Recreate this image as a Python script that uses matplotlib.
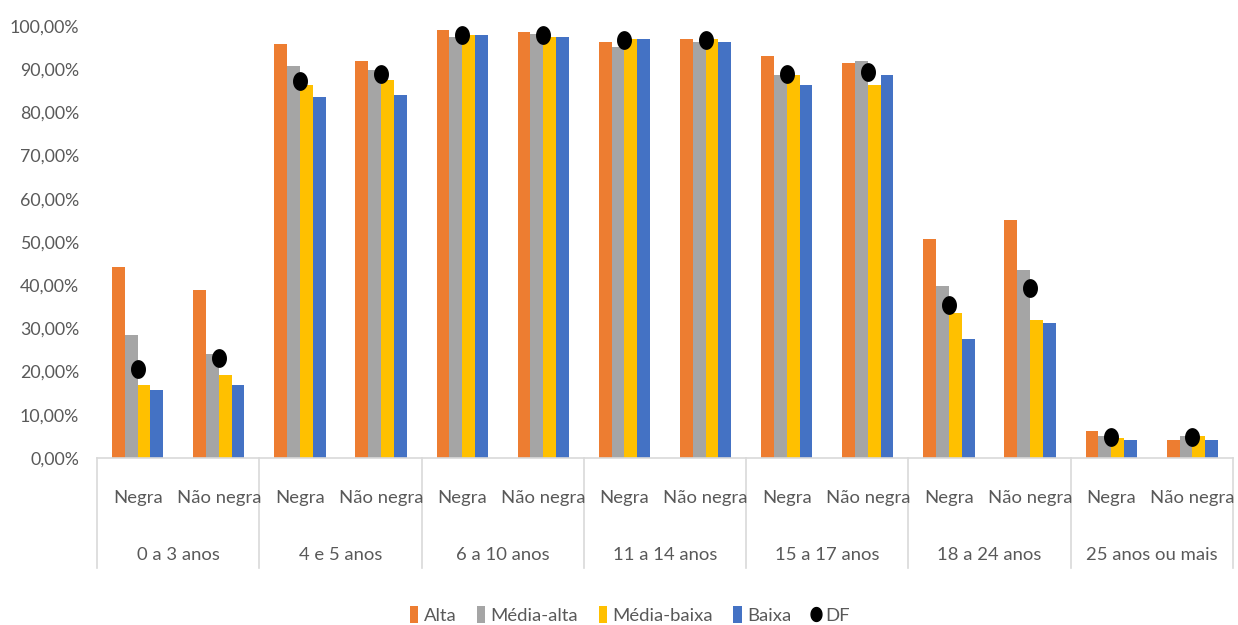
import matplotlib
matplotlib.use("Agg")
import matplotlib.pyplot as plt
import numpy as np
from matplotlib.path import Path
from matplotlib.lines import Line2D
from matplotlib.patches import Patch

# Age groups and race subgroups
age_groups = ["0 a 3 anos", "4 e 5 anos", "6 a 10 anos", "11 a 14 anos",
              "15 a 17 anos", "18 a 24 anos", "25 anos ou mais"]
race_groups = ["Negra", "Não negra"]

# Attendance rates (%) by income bracket, Negra / Não negra for each age group
alta = [44.1, 39.0, 95.8, 91.9, 99.1, 98.6, 96.4, 96.9, 93.1, 91.4, 50.7, 55.2, 6.3, 4.1]
media_alta = [28.5, 24.1, 90.8, 89.7, 97.5, 98.1, 95.2, 96.4, 88.6, 91.9, 39.7, 43.5, 5.2, 5.2]
media_baixa = [16.9, 19.1, 86.3, 87.5, 98.0, 97.5, 96.9, 96.9, 88.6, 86.3, 33.5, 31.9, 4.6, 5.2]
baixa = [15.7, 16.9, 83.6, 84.1, 98.0, 97.5, 96.9, 96.4, 86.3, 88.7, 27.5, 31.3, 4.1, 4.1]
df = [20.5, 23.2, 87.3, 89.0, 97.9, 97.9, 96.8, 96.8, 88.9, 89.4, 35.5, 39.4, 4.9, 4.9]

series_names = ["Alta", "Média-alta", "Média-baixa", "Baixa"]
series_values = [alta, media_alta, media_baixa, baixa]
colors = ["#ED7D31", "#A5A5A5", "#FFC000", "#4472C4"]

plt.rcParams["font.family"] = ["Lato", "DejaVu Sans"]
text_color = "#595959"
line_color = "#D9D9D9"
fs = 13.3

fig = plt.figure(figsize=(12.38, 6.25), dpi=100)
ax = fig.add_axes([0.0784, 0.2672, 0.9175, 0.6912])

n = len(alta)
x = np.arange(n)
bw = 0.158
for k, (vals, c, name) in enumerate(zip(series_values, colors, series_names)):
    ax.bar(x + (k - 1.5) * bw, vals, width=bw, color=c, label=name, zorder=2)

# Slightly tall ellipse marker for the DF reference value
t = np.linspace(0, 2 * np.pi, 60)
ellipse = Path(np.column_stack([0.78 * np.cos(t), np.sin(t)]), closed=True)
ax.plot(x, df, linestyle="none", marker=ellipse, markersize=12.5,
        color="black", zorder=3, label="DF")

ax.set_xlim(-0.5, n - 0.5)
ax.set_ylim(0, 100)
ax.set_yticks(np.arange(0, 101, 10))
ax.set_yticklabels([f"{v},00%" for v in range(0, 101, 10)])
ax.tick_params(axis="y", length=0, pad=13, labelsize=12.8, labelcolor=text_color)
ax.set_xticks([])
for s in ["top", "right", "left"]:
    ax.spines[s].set_visible(False)
ax.spines["bottom"].set_color(line_color)
ax.spines["bottom"].set_linewidth(1.2)

# Two-level category axis
trans = ax.get_xaxis_transform()
for i in range(n):
    ax.text(x[i], -0.093, race_groups[i % 2], transform=trans, ha="center",
            va="center", fontsize=fs, color=text_color)
for g, label in enumerate(age_groups):
    ax.text(2 * g + 0.5, -0.224, label, transform=trans, ha="center",
            va="center", fontsize=fs, color=text_color)
for b in range(len(age_groups) + 1):
    ax.add_line(Line2D([2 * b - 0.5, 2 * b - 0.5], [0, -0.255], transform=trans,
                       color=line_color, linewidth=1.2, clip_on=False))

handles = [Patch(facecolor=c, label=nm) for c, nm in zip(colors, series_names)]
handles.append(Line2D([], [], linestyle="none", marker=ellipse, markersize=10,
                      color="black", label="DF"))
fig.legend(handles=handles, loc="center", bbox_to_anchor=(0.509, 0.016),
           ncol=5, frameon=False, fontsize=fs, handlelength=0.45,
           handleheight=1.0, handletextpad=0.3, columnspacing=1.1,
           labelcolor=text_color)

fig.savefig("out.png", dpi=100)
